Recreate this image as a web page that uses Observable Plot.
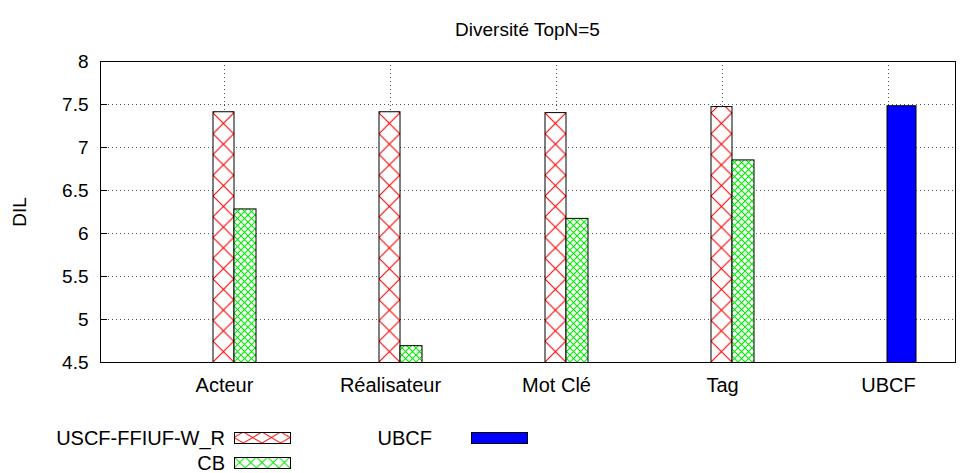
<!DOCTYPE html>
<html><head><meta charset="utf-8">
<script src="https://cdn.jsdelivr.net/npm/d3@7"></script>
<script src="https://cdn.jsdelivr.net/npm/@observablehq/plot@0.6"></script>
<style>
body{margin:0;background:#fff;font-family:"Liberation Sans",Arial,sans-serif;}
#wrap{position:relative;width:961px;height:473px;overflow:hidden;}
#title{position:absolute;left:100px;width:855px;top:19px;text-align:center;font-size:19px;color:#000;line-height:22px;}
#chart{position:absolute;left:0;top:0;}
#legend{position:absolute;left:0;top:400px;}
</style></head><body>
<div id="wrap"><div id="chart"></div><div id="title">Diversité TopN=5</div><svg id="legend" width="961" height="73"></svg></div>
<script>
const categories = ["Acteur", "Réalisateur", "Mot Clé", "Tag", "UBCF"];
const seriesNames = ["USCF-FFIUF-W_R", "CB", "UBCF"];
const uscfValues = [7.41, 7.41, 7.40, 7.47, null];
const cbValues = [6.28, 4.69, 6.17, 6.85, null];
const ubcfValues = [null, null, null, null, 7.48];
const yTicks = [4.5, 5, 5.5, 6, 6.5, 7, 7.5, 8];
const yLabel = "DIL";

const toRows = (vals, s) => categories.map((c, i) => ({category: c, series: s, value: vals[i]})).filter(d => d.value != null);
const uscfRows = toRows(uscfValues, seriesNames[0]);
const cbRows = toRows(cbValues, seriesNames[1]);
const ubcfRows = toRows(ubcfValues, seriesNames[2]);

const W = 961, H = 400, ML = 100, MR = 6, MT = 61, MB = 38;
const plotW = W - ML - MR;

const chart = Plot.plot({
  width: W, height: H,
  marginLeft: ML, marginRight: MR, marginTop: MT, marginBottom: MB,
  style: {fontFamily: "'Liberation Sans', Arial, sans-serif", fontSize: "19px", color: "#000", background: "#fff"},
  x: {domain: categories, range: [141, 971], padding: 0},
  y: {domain: [4.5, 8]},
  marks: [
    Plot.gridY(yTicks, {stroke: "#555", strokeOpacity: 1, strokeDasharray: "1,3"}),
    Plot.gridX(categories, {stroke: "#555", strokeOpacity: 1, strokeDasharray: "1,3"}),
    Plot.ruleY(yTicks, {stroke: "#000", insetRight: plotW - 7}),
    Plot.barY(uscfRows, {x: "category", y: "value", fill: "url(#pat-red)", stroke: "#000", strokeWidth: 1, insetLeft: 72, insetRight: 73, clip: true}),
    Plot.barY(cbRows, {x: "category", y: "value", fill: "url(#pat-green)", stroke: "#000", strokeWidth: 1, insetLeft: 93, insetRight: 51, clip: true}),
    Plot.barY(ubcfRows, {x: "category", y: "value", fill: "#0000ff", stroke: "#000", strokeWidth: 1, insetLeft: 82, insetRight: 55, clip: true}),
    Plot.axisY(yTicks, {tickSize: 0, tickPadding: 12, tickFormat: d => String(d), label: yLabel, labelAnchor: "center", labelArrow: "none", labelOffset: 88, fontSize: 19}),
    Plot.axisX({tickSize: 0, tickPadding: 15, label: null, fontSize: 20}),
    Plot.frame({stroke: "#000"})
  ]
});
document.getElementById("chart").appendChild(chart);

const xs = chart.scale("x");
const ys = chart.scale("y");
const svg = d3.select(chart);
const defs = svg.insert("defs", ":first-child");
const bw = xs.bandwidth;
const redPat = defs.append("pattern").attr("id", "pat-red").attr("patternUnits", "userSpaceOnUse")
  .attr("x", xs.apply(categories[0]) + 72).attr("y", ys.apply(4.5)).attr("width", bw / 8).attr("height", bw / 8);
redPat.append("rect").attr("width", bw / 8).attr("height", bw / 8).attr("fill", "#fff");
redPat.append("path").attr("d", `M0,0L${bw/8},${bw/8}M${bw/8},0L0,${bw/8}`).attr("stroke", "#ff0000").attr("stroke-width", 1.1);
const g = 7;
const greenPat = defs.append("pattern").attr("id", "pat-green").attr("patternUnits", "userSpaceOnUse")
  .attr("x", xs.apply(categories[0]) + 93).attr("y", ys.apply(4.5)).attr("width", g).attr("height", g);
greenPat.append("rect").attr("width", g).attr("height", g).attr("fill", "#fff");
greenPat.append("path").attr("d", `M0,0L${g},${g}M${g},0L0,${g}`).attr("stroke", "#00ee00").attr("stroke-width", 1.1);

// Legend
const leg = d3.select("#legend");
const ldefs = leg.append("defs");
const lr = ldefs.append("pattern").attr("id", "leg-red").attr("patternUnits", "userSpaceOnUse").attr("x", 234 - 56/6).attr("y", 32).attr("width", 56/3).attr("height", 11);
lr.append("rect").attr("width", 56/3).attr("height", 11).attr("fill", "#fff");
lr.append("path").attr("d", `M0,0L${56/3},11M${56/3},0L0,11`).attr("stroke", "#ff0000").attr("stroke-width", 1);
const lg = ldefs.append("pattern").attr("id", "leg-green").attr("patternUnits", "userSpaceOnUse").attr("x", 234).attr("y", 57).attr("width", 56/5).attr("height", 11);
lg.append("rect").attr("width", 56/5).attr("height", 11).attr("fill", "#fff");
lg.append("path").attr("d", `M0,0L${56/5},11M${56/5},0L0,11`).attr("stroke", "#00ee00").attr("stroke-width", 1);
const legendItems = [
  {name: seriesNames[0], tx: 225, sx: 234, sy: 32, fill: "url(#leg-red)"},
  {name: seriesNames[1], tx: 225, sx: 234, sy: 57, fill: "url(#leg-green)"},
  {name: seriesNames[2], tx: 432, sx: 471, sy: 32, fill: "#0000ff"}
];
legendItems.forEach(it => {
  leg.append("text").attr("x", it.tx).attr("y", it.sy + 12.5).attr("text-anchor", "end")
    .attr("font-family", "'Liberation Sans', Arial, sans-serif").attr("font-size", 20).text(it.name);
  leg.append("rect").attr("x", it.sx + 0.5).attr("y", it.sy + 0.5).attr("width", 56).attr("height", 11)
    .attr("fill", it.fill).attr("stroke", "#000").attr("stroke-width", 1);
});
</script></body></html>
